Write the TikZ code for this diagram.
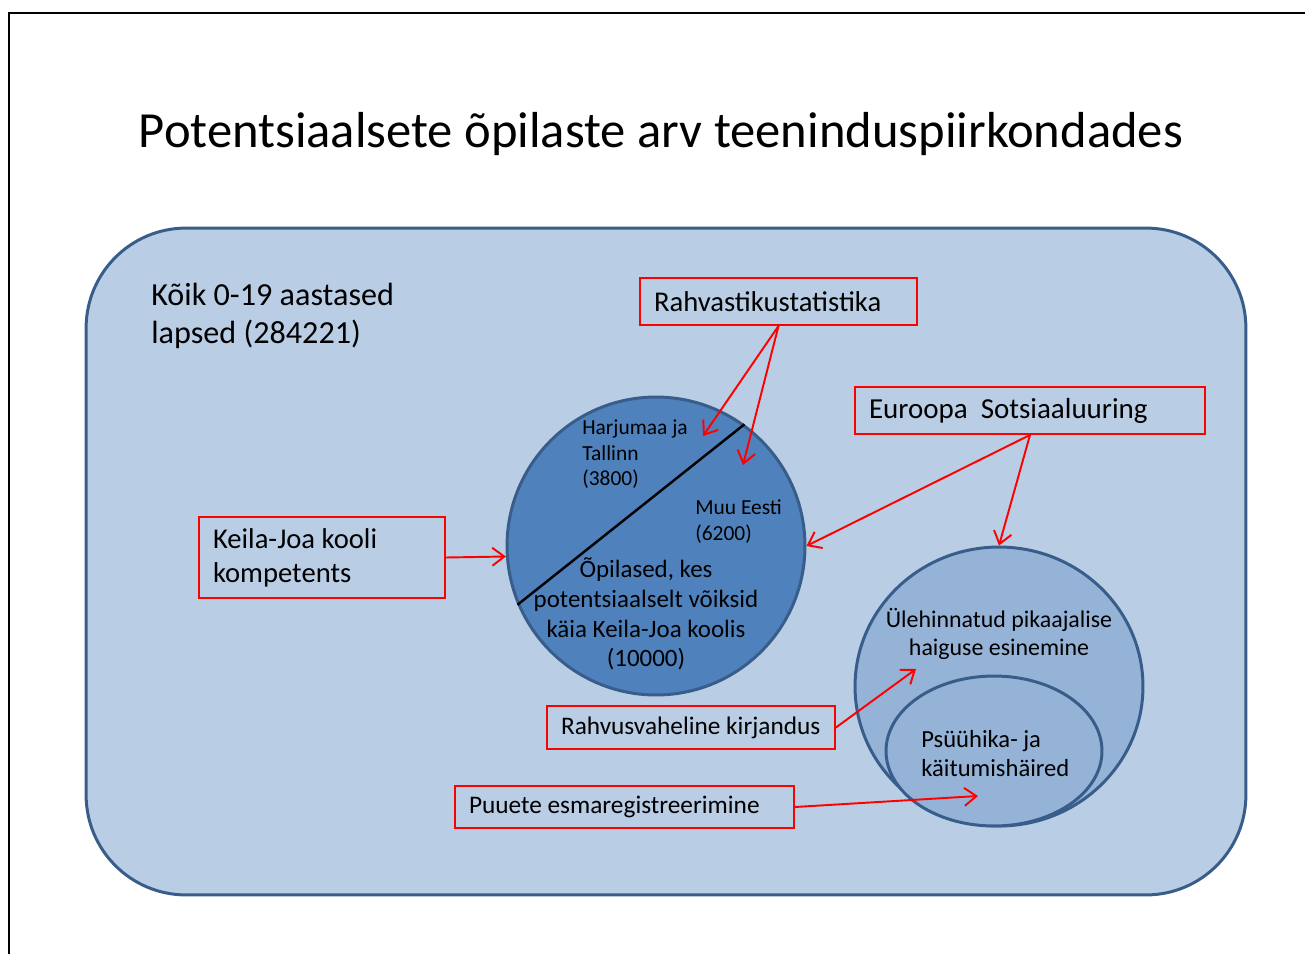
\documentclass[tikz,border=0pt]{standalone}
\usepackage{fontspec}
\setmainfont{Carlito}
\usepackage{tikz}
\usetikzlibrary{arrows.meta, shapes.geometric}

\definecolor{zonefill}{HTML}{B9CDE5}
\definecolor{zoneline}{HTML}{385D8A}
\definecolor{poolfill}{HTML}{4F81BD}
\definecolor{sickfill}{HTML}{95B3D7}

\begin{document}
\begin{tikzpicture}[
    x=0.02cm, y=-0.02cm,
    >={Straight Barb[length=2.4mm, width=3.6mm]},
    every node/.style={inner sep=0pt, text=black},
    zone/.style={draw=zoneline, line width=1.7pt, fill=zonefill, rounded corners=2cm},
    pool/.style={circle, draw=zoneline, line width=1.7pt, fill=poolfill, minimum size=5.96cm},
    sick/.style={ellipse, draw=zoneline, line width=1.7pt, fill=sickfill},
    src/.style={rectangle, draw=red, line width=1.1pt, align=flush left, inner xsep=0.28cm,
        font=\fontsize{16.3pt}{19.3pt}\selectfont},
    line/.style={->, red, line width=1.1pt}
]
\useasboundingbox (0,0) rectangle (1305,954);
\draw[line width=1.1pt] (1305,13) -- (9,13) -- (9,954);

\node[font=\fontsize{28.8pt}{34pt}\selectfont] (title) at (661,134)
    {Potentsiaalsete õpilaste arv teeninduspiirkondades};

\node[zone, minimum width=23.2cm, minimum height=13.34cm] (all) at (666,561.5) {};
\node[anchor=west, align=left, font=\fontsize{18.3pt}{21.6pt}\selectfont] (allText) at (151,316)
    {Kõik 0-19 aastased\\lapsed (284221)};

% keskmine ring
\node[pool] (pool) at (656,546) {};
\draw[line width=1.4pt] (pool.54) -- (pool.203);
\node[anchor=west, align=left, font=\fontsize{12.2pt}{14.5pt}\selectfont] (harju) at (582,454.5)
    {Harjumaa ja\\Tallinn\\(3800)};
\node[anchor=west, align=left, font=\fontsize{12.2pt}{14.5pt}\selectfont] (muu) at (695,521.5)
    {Muu Eesti\\(6200)};
\node[align=center, font=\fontsize{14.2pt}{16.9pt}\selectfont] (poolText) at (646,614)
    {Õpilased, kes\\potentsiaalselt võiksid\\käia Keila-Joa koolis\\(10000)};

% parem ring
\node[sick, minimum width=5.76cm, minimum height=5.58cm] (sick) at (999,686.5) {};
\node[sick, minimum width=4.32cm, minimum height=3.0cm] (mental) at (994,751) {};
\node[align=center, font=\fontsize{13.6pt}{15.9pt}\selectfont] (sickText) at (999,634)
    {Ülehinnatud pikaajalise\\haiguse esinemine};
\node[anchor=west, align=left, font=\fontsize{14pt}{16.5pt}\selectfont] (mentalText) at (921,754)
    {Psüühika- ja\\käitumishäired};

% allikad
\node[src, text width=5.54cm-0.56cm, minimum height=0.94cm] (rahv) at (778.5,301.5)
    {Rahvastikustatistika};
\node[src, text width=7.0cm-0.56cm, minimum height=0.94cm, font=\fontsize{16.5pt}{19.3pt}\selectfont] (euro) at (1030,410.5)
    {Euroopa~ Sotsiaaluuring};
\node[src, text width=4.92cm-0.56cm, minimum height=1.62cm] (keila) at (322,557.5)
    {Keila-Joa kooli\\kompetents};
\node[src, text width=5.76cm-0.56cm, minimum height=0.86cm, font=\fontsize{14.4pt}{17pt}\selectfont] (kirj) at (691,727.5)
    {Rahvusvaheline kirjandus};
\node[src, text width=6.78cm-0.56cm, minimum height=0.84cm, font=\fontsize{14.4pt}{17pt}\selectfont] (puue) at (624.5,807)
    {Puuete esmaregistreerimine};

\coordinate (harjuTip) at (703,436);
\coordinate (muuTip) at (743,465);
\coordinate (sickTip) at (916,669);
\coordinate (mentalTip) at (978,796);

\draw[line] (rahv.south) -- (harjuTip);
\draw[line] (rahv.south) -- (muuTip);
\draw[line] (euro.south) -- (pool.east);
\draw[line] (euro.south) -- (sick.north);
\draw[line] (keila.east) -- (pool.184);
\draw[line] (kirj.east) -- (sickTip);
\draw[line] (puue.east) -- (mentalTip);
\end{tikzpicture}
\end{document}
